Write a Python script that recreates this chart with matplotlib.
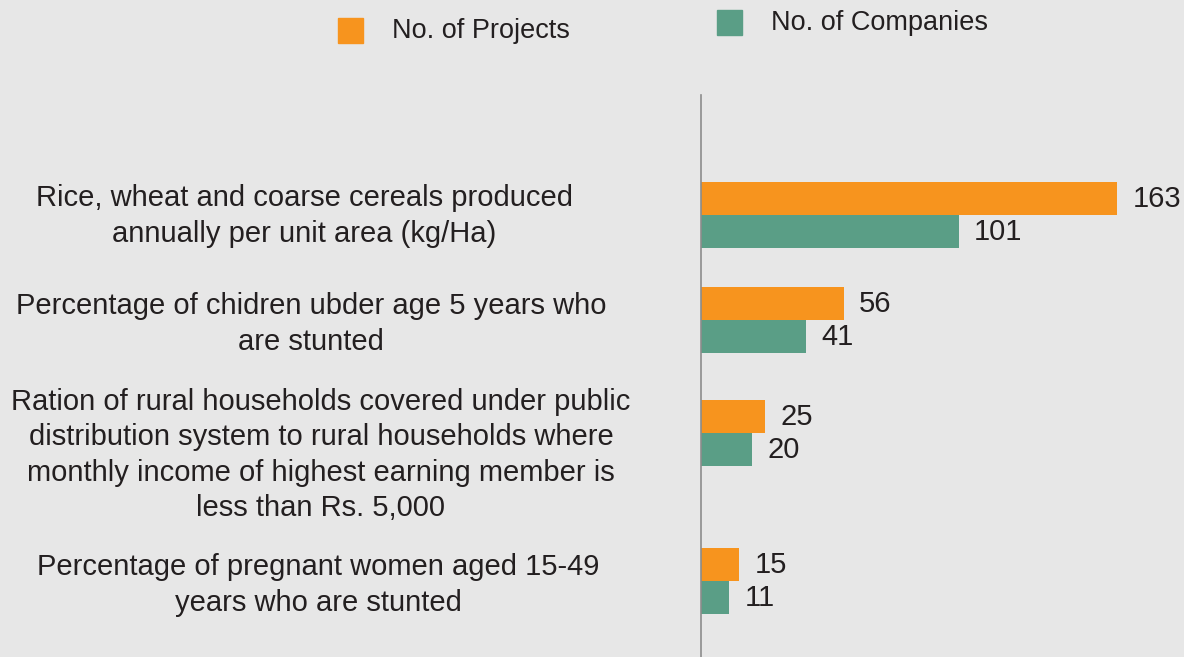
import matplotlib
matplotlib.use("Agg")
import matplotlib.pyplot as plt
from matplotlib.patches import Rectangle
import matplotlib.transforms as mtransforms

plt.rcParams["font.family"] = ["Liberation Sans", "DejaVu Sans"]

categories = [
    "Rice, wheat and coarse cereals produced\nannually per unit area (kg/Ha)",
    "Percentage of chidren ubder age 5 years who\nare stunted",
    "Ration of rural households covered under public\ndistribution system to rural households where\nmonthly income of highest earning member is\nless than Rs. 5,000",
    "Percentage of pregnant women aged 15-49\nyears who are stunted",
]
projects = [163, 56, 25, 15]
companies = [101, 41, 20, 11]

ORANGE = "#f7941e"
GREEN = "#5a9e86"
BG = "#e7e7e7"
TXT = "#231f20"

W, H = 1184, 657
fig = plt.figure(figsize=(W / 100, H / 100), dpi=100, facecolor=BG)
ax = fig.add_axes([701 / W, 0, (W - 701) / W, (H - 95) / H])
ax.set_facecolor(BG)

# group centres in pixel rows of the original layout (uneven spacing)
centres = [215, 320, 433, 581]
label_y = [216, 324, 455, 585]
label_x = [304, 311, 321, 318]
bh = 33

for c, p, q in zip(centres, projects, companies):
    ax.barh(c - bh / 2, p, height=bh, color=ORANGE)
    ax.barh(c + bh / 2, q, height=bh, color=GREEN)
    ax.text(p + 6, c - bh / 2, str(p), va="center", ha="left", fontsize=21, color=TXT)
    ax.text(q + 6, c + bh / 2, str(q), va="center", ha="left", fontsize=21, color=TXT)

ax.set_xlim(0, 163 * (W - 701) / 416)
ax.set_ylim(H, 95)
for s in ["top", "right", "bottom"]:
    ax.spines[s].set_visible(False)
ax.spines["left"].set_color("#8c8c8c")
ax.spines["left"].set_linewidth(1.2)
ax.set_xticks([])
ax.set_yticks([])

trans = mtransforms.blended_transform_factory(fig.transFigure, ax.transData)
for lab, x, y in zip(categories, label_x, label_y):
    ax.text(x / W, y, lab, transform=trans, ha="center", va="center",
            fontsize=21, color=TXT, linespacing=1.32, clip_on=False)

# legend drawn by hand: the two entries sit at slightly different heights
for x0, y0, col, lab, tx in [(338, 18, ORANGE, "No. of Projects", 392),
                             (717, 10, GREEN, "No. of Companies", 771)]:
    fig.patches.append(Rectangle((x0 / W, 1 - (y0 + 25) / H), 25 / W, 25 / H,
                                 transform=fig.transFigure, color=col))
    fig.text(tx / W, 1 - (y0 + 12.5) / H, lab, ha="left", va="center",
             fontsize=19.5, color=TXT)

fig.savefig("out.png", dpi=100, facecolor=BG)
